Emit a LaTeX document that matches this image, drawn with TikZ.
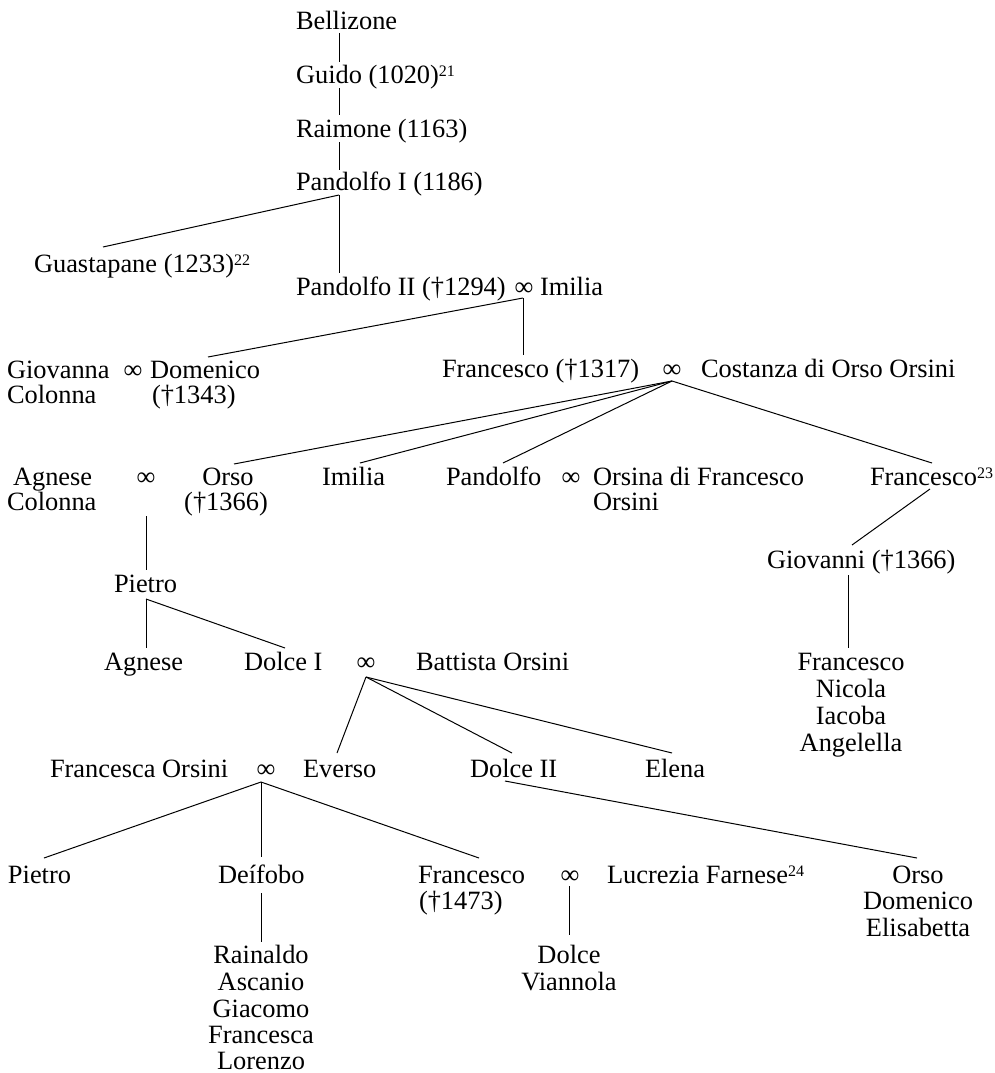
\documentclass[tikz,border=0pt]{standalone}
\usepackage{fontspec}
\setmainfont{Liberation Serif}
\newcommand\fnm[1]{{\fontsize{16}{16}\selectfont\raisebox{7pt}{#1}}}
\begin{document}
\begin{tikzpicture}[x=1pt,y=-1pt,
  nm/.style={inner sep=0pt, outer sep=0pt, text height=18pt, text depth=0pt, font=\fontsize{26.4}{26.4}\selectfont},
  pw/.style={nm, anchor=base west},
  pc/.style={nm, anchor=base},
  mar/.style={nm, anchor=base},
  link/.style={line width=1pt}]
\useasboundingbox (0,0) rectangle (994,1073);
% --- nodes ---
\node[pw] (bell) at (296,30) {Bellizone};
\node[pw] (guido) at (296,83) {Guido (1020)\fnm{21}};
\node[pw] (raim) at (296,137) {Raimone (1163)};
\node[pw] (pand1) at (296,190) {Pandolfo I (1186)};
\node[pw] (guast) at (34,272) {Guastapane (1233)\fnm{22}};
\node[pw] (pand2) at (296,295) {Pandolfo II (†1294)};
\node[mar] (m2) at (524,295) {∞};
\node[pw] (imil1) at (540,295) {Imilia};
\node[pw] (giova) at (7,378) {Giovanna};
\node[pw] (colo1) at (7,403) {Colonna};
\node[mar] (m3) at (133,378) {∞};
\node[pw] (dom) at (150,378) {Domenico};
\node[pw] (domd) at (152,403) {(†1343)};
\node[pw] (fra1) at (442,377) {Francesco (†1317)};
\node[mar] (m4) at (672,377) {∞};
\node[pw] (cost) at (701,377) {Costanza di Orso Orsini};
\node[pw] (agn1) at (13,485) {Agnese};
\node[pw] (colo2) at (7,510) {Colonna};
\node[mar] (m5) at (146,485) {∞};
\node[pc] (orso1) at (228,485) {Orso};
\node[pc] (orsod) at (226,510) {(†1366)};
\node[pw] (imil2) at (322,485) {Imilia};
\node[pw] (pand3) at (446,485) {Pandolfo};
\node[mar] (m6) at (571,485) {∞};
\node[pw] (orsina) at (593,485) {Orsina di Francesco};
\node[pw] (orsini) at (593,510) {Orsini};
\node[pw] (fra2) at (870,485) {Francesco\fnm{23}};
\node[pw] (giov) at (767,568) {Giovanni (†1366)};
\node[pw] (pie1) at (114,592) {Pietro};
\node[pw] (agn2) at (104,670) {Agnese};
\node[pw] (dol1) at (244,670) {Dolce I};
\node[mar] (m7) at (366,670) {∞};
\node[pw] (batt) at (416,670) {Battista Orsini};
\node[pc] (franc4) at (851,670) {Francesco};
\node[pc] (nico) at (851,697) {Nicola};
\node[pc] (iaco) at (851,724) {Iacoba};
\node[pc] (ange) at (851,751) {Angelella};
\node[pw] (fors) at (50,777) {Francesca Orsini};
\node[mar] (m8) at (266,777) {∞};
\node[pw] (ever) at (303,777) {Everso};
\node[pw] (dol2) at (470,777) {Dolce II};
\node[pw] (elena) at (645,777) {Elena};
\node[pw] (pie2) at (8,883) {Pietro};
\node[pw] (deif) at (218,883) {Deífobo};
\node[pw] (fra3) at (418,883) {Francesco};
\node[pw] (fra3d) at (419,909) {(†1473)};
\node[mar] (m9) at (570,883) {∞};
\node[pw] (lucr) at (607,883) {Lucrezia Farnese\fnm{24}};
\node[pc] (orso2) at (918,883) {Orso};
\node[pc] (dome2) at (918,909) {Domenico};
\node[pc] (elis) at (918,936) {Elisabetta};
\node[pc] (rain) at (261,963) {Rainaldo};
\node[pc] (asca) at (261,990) {Ascanio};
\node[pc] (giac) at (261,1017) {Giacomo};
\node[pc] (frca) at (261,1043) {Francesca};
\node[pc] (lore) at (261,1069) {Lorenzo};
\node[pc] (dolc3) at (569,963) {Dolce};
\node[pc] (vian) at (569,990) {Viannola};
% --- connectors ---
\draw[link] ([shift={(43,3)}]bell.south west) -- ([shift={(43,-3)}]guido.north west);
\draw[link] ([shift={(43,5)}]guido.south west) -- ([shift={(43,-4)}]raim.north west);
\draw[link] ([shift={(43,5)}]raim.south west) -- ([shift={(43,-2)}]pand1.north west);
\draw[link] ([shift={(43,5)}]pand1.south west) -- ([shift={(43,-4)}]pand2.north west);
\draw[link] ([shift={(43,5)}]pand1.south west) -- ([shift={(69,-7)}]guast.north west);
\draw[link] ([shift={(-1,3)}]m2.south) -- ([shift={(81,-4)}]fra1.north west);
\draw[link] ([shift={(-1,3)}]m2.south) -- ([shift={(58,-3)}]dom.north west);
\draw[link] ([shift={(0,4)}]m4.south) -- ([shift={(6,-3)}]orso1.north);
\draw[link] ([shift={(0,4)}]m4.south) -- ([shift={(38,-4)}]imil2.north west);
\draw[link] ([shift={(0,4)}]m4.south) -- ([shift={(57,-4)}]pand3.north west);
\draw[link] ([shift={(0,4)}]m4.south) -- ([shift={(62,-4)}]fra2.north west);
\draw[link] ([shift={(60,4)}]fra2.south west) -- ([shift={(85,-5)}]giov.north west);
\draw[link] ([shift={(81,7)}]giov.south west) -- ([shift={(-3,-4)}]franc4.north);
\draw[link] ([shift={(0,31)}]m5.south) -- ([shift={(32,-4)}]pie1.north west);
\draw[link] ([shift={(32,7)}]pie1.south west) -- ([shift={(42,-4)}]agn2.north west);
\draw[link] ([shift={(32,7)}]pie1.south west) -- ([shift={(41,-4)}]dol1.north west);
\draw[link] ([shift={(0,7)}]m7.south) -- ([shift={(34,-6)}]ever.north west);
\draw[link] ([shift={(0,7)}]m7.south) -- ([shift={(42,-6)}]dol2.north west);
\draw[link] ([shift={(0,7)}]m7.south) -- ([shift={(27,-6)}]elena.north west);
\draw[link] ([shift={(-5,5)}]m8.south) -- ([shift={(36,-7)}]pie2.north west);
\draw[link] ([shift={(-5,5)}]m8.south) -- ([shift={(43,-8)}]deif.north west);
\draw[link] ([shift={(-5,5)}]m8.south) -- ([shift={(61,-7)}]fra3.north west);
\draw[link] ([shift={(35,4)}]dol2.south west) -- ([shift={(-1,-7)}]orso2.north);
\draw[link] ([shift={(43,10)}]deif.south west) -- ([shift={(0,-3)}]rain.north);
\draw[link] ([shift={(-1,3)}]m9.south) -- ([shift={(0,-10)}]dolc3.north);
\end{tikzpicture}
\end{document}
